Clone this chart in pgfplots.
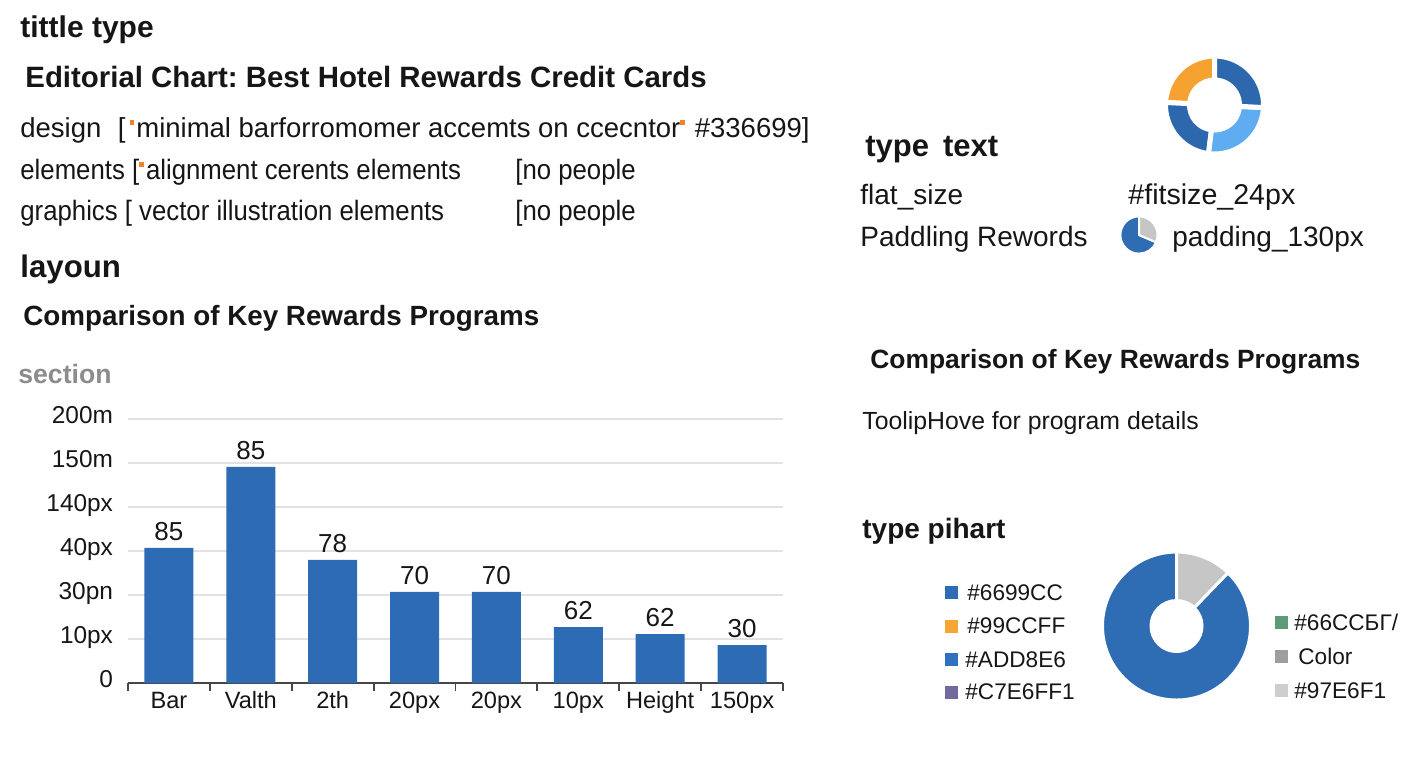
\documentclass[border=0pt]{standalone}
\usepackage{fontspec}
\setmainfont{Liberation Sans}
\newfontfamily\cond{Liberation Sans}[FakeStretch=0.92]
\usepackage{pgfplots}
\pgfplotsset{compat=1.18}
\usepackage{pgfplotstable}

\definecolor{txt}{RGB}{22,22,22}
\definecolor{barblue}{RGB}{46,107,181}
\definecolor{gridgray}{RGB}{226,226,226}
\definecolor{axgray}{RGB}{70,70,70}
\definecolor{secgray}{RGB}{140,140,140}
\definecolor{dotorange}{RGB}{240,130,40}
\definecolor{dbl}{RGB}{45,104,174}
\definecolor{orng}{RGB}{245,162,48}
\definecolor{lbl}{RGB}{96,172,240}
\definecolor{pgray}{RGB}{198,198,198}
\definecolor{lg1}{RGB}{46,108,180}
\definecolor{lg2}{RGB}{246,166,52}
\definecolor{lg3}{RGB}{48,112,188}
\definecolor{lg4}{RGB}{112,106,158}
\definecolor{lg5}{RGB}{92,154,124}
\definecolor{lg6}{RGB}{158,158,158}
\definecolor{lg7}{RGB}{206,206,206}

\newcommand{\fs}[1]{\fontsize{#1}{#1}\selectfont}
\newcommand{\dotor}{{\color{dotorange}\rule[0.42em]{2.2pt}{2.8pt}}\hspace{1.2pt}}
\newcommand{\sw}[1]{\textcolor{#1}{\rule[0.5pt]{6.5pt}{6.5pt}}}
% ring slice: a1 a2 ri ro colour border
\newcommand{\ring}[6]{%
  \filldraw[fill=#5, draw=white, line width=#6] (axis cs:0,0) ++(#1:#4)
    arc[start angle=#1, end angle=#2, radius=#4]
    -- ++({#2+180}:{#4-#3})
    arc[start angle=#2, end angle=#1, radius=#3] -- cycle;}
% pie slice: a1 a2 r colour border
\newcommand{\pieslice}[5]{%
  \filldraw[fill=#4, draw=white, line width=#5] (axis cs:0,0) -- ++(#1:#3)
    arc[start angle=#1, end angle=#2, radius=#3] -- cycle;}

\pgfplotstableread{
x y label
0 3.07 85
1 4.91 85
2 2.80 78
3 2.07 70
4 2.07 70
5 1.27 62
6 1.11 62
7 0.86 30
}\bardata

\begin{document}
\frenchspacing
\begin{tikzpicture}[x=0.5pt,y=-0.5pt,
  T/.style={anchor=base west, inner sep=0pt, text=txt}]
\useasboundingbox (0,0) rectangle (1408,768);
\fill[white] (0,0) rectangle (1408,768);

% ---------- left texts ----------
\node[T, font=\fs{15}\bfseries] at (20,37) {tittle type};
\node[T, font=\fs{14.7}\bfseries] at (25,87) {Editorial Chart: Best Hotel Rewards Credit Cards};
\node[T, font=\fs{13.75}] at (20,137) {design\hspace{0.6em}[\hspace{2pt}\dotor minimal barforromomer accemts on ccecntor\dotor\ \#336699]};
\node[T, font=\fs{14}\cond] at (20,179) {elements [\dotor alignment cerents elements};
\node[T, font=\fs{14}\cond] at (515,179) {[no people};
\node[T, font=\fs{14}\cond] at (20,220) {graphics [ vector illustration elements};
\node[T, font=\fs{14}\cond] at (515,220) {[no people};
\node[T, font=\fs{15.6}\bfseries] at (20,277) {layoun};
\node[T, font=\fs{13.9}\bfseries] at (23,325) {Comparison of Key Rewards Programs};
\node[T, font=\fs{13.3}\bfseries, text=secgray] at (18,383) {section};

% ---------- right texts ----------
\node[T, font=\fs{15.5}\bfseries] at (865,156) {type\hspace{0.45em}text};
\node[T, font=\fs{14}] at (860,204) {flat\_size};
\node[T, font=\fs{14.3}] at (1128,204) {\#fitsize\_24px};
\node[T, font=\fs{14}] at (860,246) {Paddling Rewords};
\node[T, font=\fs{14}] at (1172,246) {padding\_130px};
\node[T, font=\fs{13.2}\bfseries] at (870,368) {Comparison of Key Rewards Programs};
\node[T, font=\fs{12.4}] at (862,429) {ToolipHove for program details};
\node[T, font=\fs{14}\bfseries] at (862,538) {type pihart};

% legends
\node[T, font=\fs{11.3}] at (945,600) {\sw{lg1}\hspace{4.5pt}\#6699CC};
\node[T, font=\fs{11.3}] at (945,633.5) {\sw{lg2}\hspace{4.5pt}\#99CCFF};
\node[T, font=\fs{11.3}] at (945,667) {\sw{lg3}\hspace{3.5pt}\#ADD8E6};
\node[T, font=\fs{11.3}] at (945,699.5) {\sw{lg4}\hspace{3.5pt}\#C7E6FF1};
\node[T, font=\fs{11.3}] at (1275,630) {\sw{lg5}\hspace{3pt}\#66CCБГ/};
\node[T, font=\fs{11.3}] at (1275,664) {\sw{lg6}\hspace{5pt}Color};
\node[T, font=\fs{11.3}] at (1275,698) {\sw{lg7}\hspace{3pt}\#97E6F1};

% ---------- bar chart ----------
\begin{axis}[
  at={(64pt,-341.5pt)}, anchor=south west, scale only axis,
  width=327.5pt, height=132pt,
  xmin=-0.5, xmax=7.5, ymin=0, ymax=6,
  axis x line*=bottom, axis y line*=left,
  y axis line style={draw=none},
  x axis line style={draw=axgray, line width=0.9pt},
  tick align=outside, major tick length=4pt,
  ytick={0,...,6},
  yticklabels={0,10px,30pn,40px,140px,150m,200m},
  ytick style={draw=none},
  yticklabel style={font=\fs{12.2}, text=txt, xshift=0pt},
  ymajorgrids, grid style={draw=gridgray, line width=0.9pt},
  xtick={-0.5,0.5,...,7.5},
  xticklabels={Bar,Valth,2th,20px,20px,10px,Height,150px,{}},
  xtick style={draw=axgray, line width=0.9pt},
  xticklabel style={font=\fs{11.8}, text=txt, xshift=20.47pt, yshift=3.2pt},
  typeset ticklabels with strut,
  clip=false,
]
\addplot[ybar, bar width=24.5pt, fill=barblue, draw=none,
  nodes near coords, point meta=explicit symbolic,
  nodes near coords style={font=\fs{13}, text=txt}]
  table[x=x, y=y, meta=label] {\bardata};
\end{axis}

% ---------- top donut ----------
\begin{axis}[at={(607.25pt,-52.5pt)}, anchor=origin, scale only axis,
  width=50pt, height=50pt, xmin=-1, xmax=1, ymin=-1, ymax=1,
  hide axis, clip=false]
\addplot[draw=none] coordinates {(0,0)};
\ring{90}{177}{12.5pt}{24.5pt}{orng}{2.5pt}
\ring{177}{263}{12.5pt}{24.5pt}{dbl}{2.5pt}
\ring{263}{357}{12.5pt}{24.5pt}{lbl}{2.5pt}
\ring{357}{450}{12.5pt}{24.5pt}{dbl}{2.5pt}
\end{axis}

% ---------- small pie ----------
\begin{axis}[at={(569.5pt,-117.5pt)}, anchor=origin, scale only axis,
  width=20pt, height=20pt, xmin=-1, xmax=1, ymin=-1, ymax=1,
  hide axis, clip=false]
\addplot[draw=none] coordinates {(0,0)};
\pieslice{90}{337}{9.3pt}{lg1}{1pt}
\pieslice{-23}{90}{9.3pt}{pgray}{1pt}
\end{axis}

% ---------- big donut ----------
\begin{axis}[at={(588.25pt,-313pt)}, anchor=origin, scale only axis,
  width=74pt, height=74pt, xmin=-1, xmax=1, ymin=-1, ymax=1,
  hide axis, clip=false]
\addplot[draw=none] coordinates {(0,0)};
\ring{90}{406}{12.75pt}{37pt}{lg1}{1.5pt}
\ring{46}{90}{12.75pt}{37pt}{pgray}{1.5pt}
\end{axis}
\end{tikzpicture}
\end{document}
